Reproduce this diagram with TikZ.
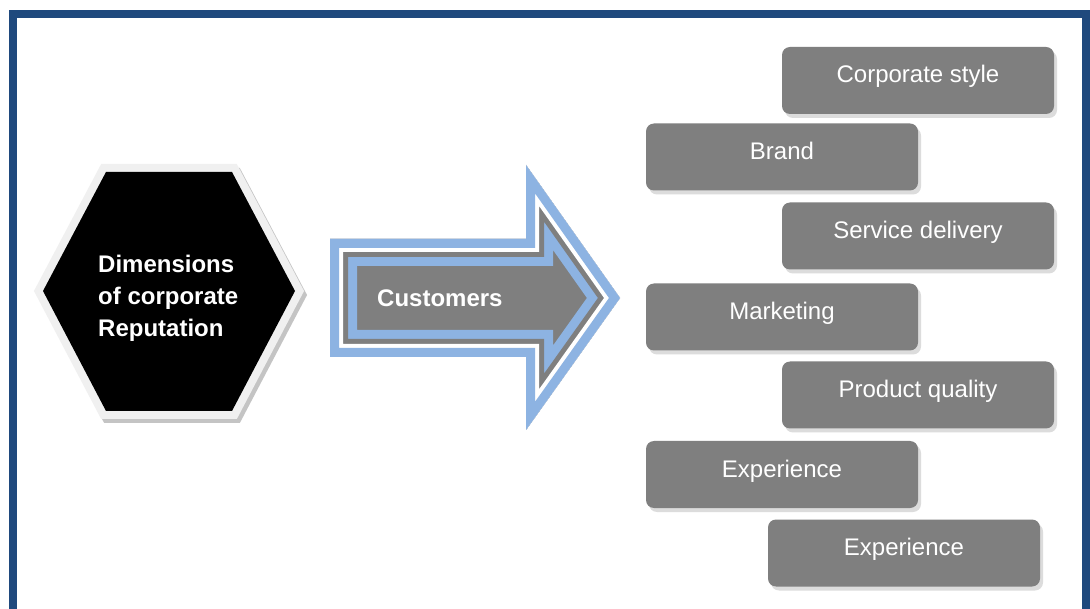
\documentclass[tikz,border=0pt]{standalone}
\usepackage{fontspec}
\setmainfont{Liberation Sans}
\usetikzlibrary{shadows}
\definecolor{framecol}{HTML}{1F497D}
\definecolor{boxgray}{HTML}{7F7F7F}
\definecolor{arrowblue}{HTML}{8DB3E2}
\definecolor{hexrim}{HTML}{F0F0F0}
\definecolor{hexshadow}{HTML}{C4C4C4}
\definecolor{boxshadow}{HTML}{DCDCDC}
\begin{document}
\begin{tikzpicture}[x=1pt,y=-1pt,
  dimbox/.style={rectangle, rounded corners=8pt, fill=boxgray, minimum width=272pt,
    minimum height=67pt, inner sep=0pt, text=white, font=\fontsize{24}{28}\selectfont,
    text height=18pt, text depth=13pt,
    drop shadow={shadow xshift=3pt, shadow yshift=-4pt, fill=boxshadow, opacity=1}},
  arrowshape/.style={insert path={(330,239) -- (526,239) -- (526,165) -- (620,298) -- (526,430) -- (526,357) -- (330,357) -- cycle}},
  hexshape/.style={insert path={(106,172) -- (232,172) -- (295,291) -- (232,411) -- (106,411) -- (43,291) -- cycle}},
  whitebold/.style={text=white, inner sep=0pt, font=\bfseries\fontsize{24}{32}\selectfont}
]
\useasboundingbox (0,0) rectangle (1090,609);
\clip (0,0) rectangle (1090,609);
\fill[white] (0,0) rectangle (1090,609);
% frame
\draw[framecol, line width=8pt, line join=miter] (13,14) rectangle (1086,650);

% hexagon
\filldraw[fill=hexshadow, draw=hexshadow, line width=16pt, line join=miter, shift={(3,4)}, hexshape];
\filldraw[fill=hexrim, draw=hexrim, line width=16pt, line join=miter, hexshape];
\fill[black, hexshape];
\node[whitebold, anchor=north west, align=left] (dim) at (98,255) {Dimensions\\of corporate\\Reputation};

% arrow
\begin{scope}
  \clip[arrowshape];
  \fill[boxgray, arrowshape];
  \draw[arrowblue, line width=54pt, line join=miter, arrowshape];
  \draw[boxgray, line width=36pt, line join=miter, arrowshape];
  \draw[white, line width=26pt, line join=miter, arrowshape];
  \draw[arrowblue, line width=18pt, line join=miter, arrowshape];
\end{scope}
\node[whitebold, anchor=west] (cust) at (377,298) {Customers};

% boxes
\node[dimbox] (cs) at (918,80.5) {Corporate style};
\node[dimbox] (br) at (782,157) {Brand};
\node[dimbox] (sd) at (918,236) {Service delivery};
\node[dimbox] (mk) at (782,317) {Marketing};
\node[dimbox] (pq) at (918,395) {Product quality};
\node[dimbox] (ex1) at (782,474.5) {Experience};
\node[dimbox] (ex2) at (904,553) {Experience};
\end{tikzpicture}
\end{document}
